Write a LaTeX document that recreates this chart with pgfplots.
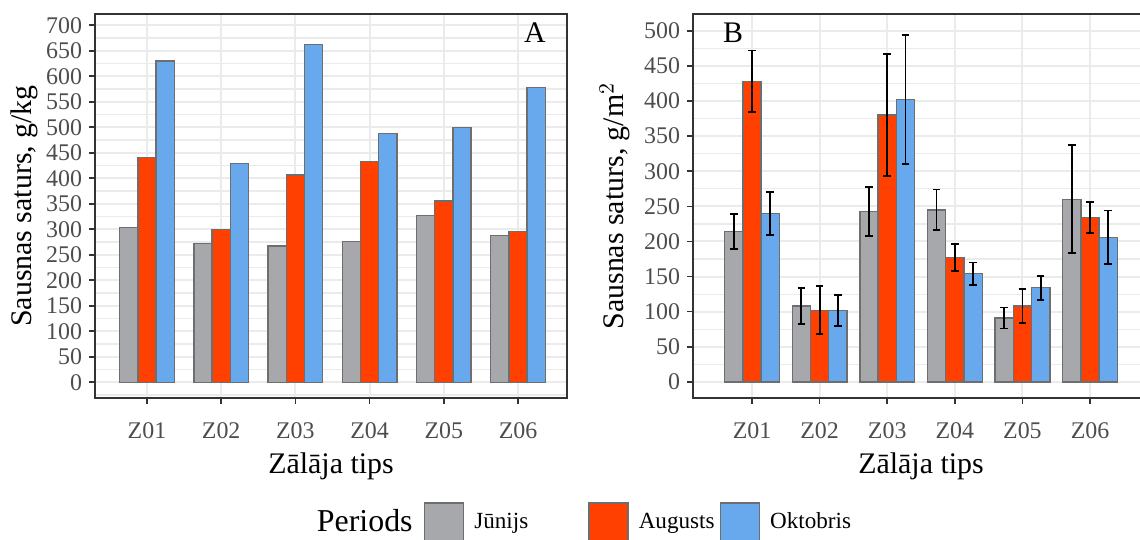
\documentclass[border=0pt]{standalone}
\usepackage{fontspec}
\setmainfont{Liberation Serif}
\usepackage{pgfplots}
\usepackage{pgfplotstable}
\pgfplotsset{compat=1.18}
\definecolor{cgray}{RGB}{166,168,171}
\definecolor{cred}{RGB}{255,64,0}
\definecolor{cblue}{RGB}{104,168,236}
\definecolor{tickc}{RGB}{77,77,77}
\definecolor{gridc}{RGB}{235,235,235}
\definecolor{framec}{RGB}{51,51,51}
\definecolor{edgec}{RGB}{110,110,110}

\pgfplotstableread{
x g r b
0 303 441 630
1 272 299 429
2 267 406 662
3 276 433 488
4 327 355 500
5 288 295 578
}\dataA

\pgfplotstableread{
x g ge r re b be
0 214 25 428 44 240 31
1 108 26 102 34 102 22
2 243 35 380 87 402 92
3 245 29 177 19 154 16
4 91 15 108 24 134 17
5 260 77 234 22 206 38
}\dataB

\pgfplotsset{
 panel/.style={
  scale only axis, height=192bp,
  xtick={0,1,2,3,4,5}, xticklabels={Z01,Z02,Z03,Z04,Z05,Z06},
  ytick distance=50, minor y tick num=1,
  xmajorgrids, ymajorgrids, yminorgrids,
  major grid style={gridc, line width=1bp},
  minor grid style={gridc, line width=0.6bp},
  axis line style={framec, line width=0.8bp},
  tick style={framec, line width=0.8bp},
  major tick length=3bp, minor tick length=0pt, tick align=outside,
  tick pos=left,
  ticklabel style={font=\fontsize{12}{12}\selectfont, text=tickc},
  xticklabel style={yshift=-6bp},
  /pgf/number format/assume math mode=true,
  label style={font=\fontsize{15}{15}\selectfont},
  xlabel={Zālāja tips},
  ybar,
  barsty/.style={draw=edgec, line width=0.7bp,
    legend image code/.code={\draw[##1] (0bp,-9.5bp) rectangle (19.5bp,9.5bp);}},
 }
}

\begin{document}
\begin{tikzpicture}[x=1bp,y=1bp]
\useasboundingbox (0,0) rectangle (570,-269.5);
\begin{axis}[panel, at={(47.5bp,-199bp)}, anchor=south west,
  width=236bp, xmin=-0.70, xmax=5.66, ymin=-31, ymax=722,
  bar width=0.245,
  ylabel={Sausnas saturs, g/kg}, ylabel shift=-3bp,
  legend columns=4,
  legend style={at={(1.0254,-0.323)}, anchor=center, draw=none, fill=none,
    font=\fontsize{11.6}{11.6}\selectfont,
    nodes={inner sep=0pt},
    /tikz/every even column/.append style={column sep=0bp},
    /tikz/every odd column/.append style={column sep=5bp}},
  legend cell align=left]
\addlegendimage{empty legend}
\addlegendentry{\makebox[53.5bp][l]{\fontsize{16}{16}\selectfont Periods}}
\addplot[barsty, fill=cgray, bar shift=-0.245] table[x=x,y=g]{\dataA};
\addlegendentry{\makebox[57bp][l]{Jūnijs}}
\addplot[barsty, fill=cred, bar shift=0] table[x=x,y=r]{\dataA};
\addlegendentry{\makebox[40.5bp][l]{Augusts}}
\addplot[barsty, fill=cblue, bar shift=0.245] table[x=x,y=b]{\dataA};
\addlegendentry{Oktobris}
\end{axis}
\begin{axis}[panel, at={(346.5bp,-199bp)}, anchor=south west,
  width=228bp, xmin=-0.873, xmax=5.873, ymin=-23, ymax=524,
  bar width=0.27,
  ylabel={Sausnas saturs, g/m$^2$},
  error bars/error mark=-,
  error bars/error bar style={black, line width=0.9bp},
  error bars/error mark options={black, rotate=90, mark size=1.9bp, line width=0.9bp}]
\addplot[barsty, fill=cgray, bar shift=-0.27, error bars/.cd, y dir=both, y explicit] table[x=x,y=g,y error=ge]{\dataB};
\addplot[barsty, fill=cred, bar shift=0, error bars/.cd, y dir=both, y explicit] table[x=x,y=r,y error=re]{\dataB};
\addplot[barsty, fill=cblue, bar shift=0.27, error bars/.cd, y dir=both, y explicit] table[x=x,y=b,y error=be]{\dataB};
\end{axis}
\node[font=\fontsize{15}{15}\selectfont] at (267.5,-16.5) {A};
\node[font=\fontsize{15}{15}\selectfont] at (366.5,-16.5) {B};
\end{tikzpicture}
\end{document}
